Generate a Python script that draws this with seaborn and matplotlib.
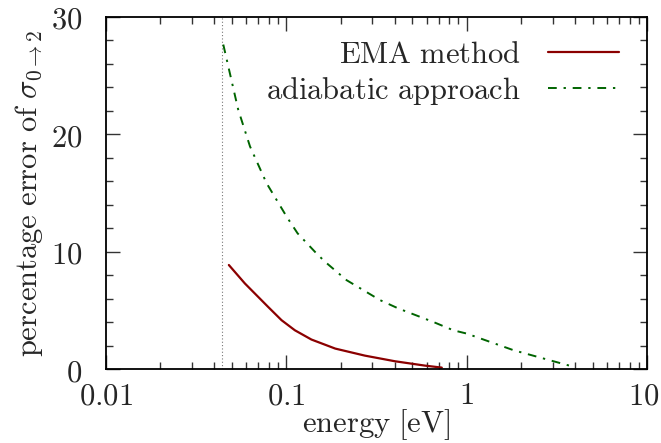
import matplotlib
matplotlib.use("Agg")
import matplotlib.pyplot as plt
import matplotlib.ticker as mticker
import matplotlib.transforms as mtransforms
import seaborn as sns
import pandas as pd
import numpy as np

# data
ema_energy = [0.0481, 0.0590, 0.0794, 0.0942, 0.1117, 0.138, 0.187, 0.273, 0.401, 0.587, 0.728]
ema_error = [8.86, 7.29, 5.29, 4.16, 3.30, 2.51, 1.74, 1.14, 0.66, 0.29, 0.12]
adia_energy = [0.0448, 0.0542, 0.0630, 0.0778, 0.101, 0.1156, 0.146, 0.164, 0.216,
               0.331, 0.418, 0.653, 0.843, 1.0, 1.82, 2.90, 3.83]
adia_error = [27.64, 22.09, 18.96, 15.83, 12.93, 11.56, 9.9, 9.14, 7.57,
              5.87, 5.16, 4.01, 3.30, 3.02, 1.60, 0.74, 0.23]
threshold = 0.044
x_ticks = [0.01, 0.1, 1, 10]
x_tick_labels = ["0.01", "0.1", "1", "10"]
y_ticks = [0, 10, 20, 30]

sns.set_style("ticks")
plt.rcParams["mathtext.fontset"] = "cm"
plt.rcParams["font.family"] = ["DejaVu Serif"]

FS = 22

df = pd.concat([
    pd.DataFrame({"energy": ema_energy, "error": ema_error, "series": "EMA method"}),
    pd.DataFrame({"energy": adia_energy, "error": adia_error, "series": "adiabatic approach"}),
])

fig = plt.figure(figsize=(6.61, 4.43), dpi=100)
ax = fig.add_axes([0.160, 0.167, 0.819, 0.795])

palette = {"EMA method": "#8b0000", "adiabatic approach": "#006400"}
sns.lineplot(data=df, x="energy", y="error", hue="series", palette=palette,
             ax=ax, sort=False, estimator=None, linewidth=1.6, legend=False)
lines = ax.get_lines()
lines[1].set_dashes([4.5, 3.5, 1.2, 3.5])
lines[1].set_linewidth(1.4)

ax.axvline(threshold, color="#777777", linestyle=(0, (1, 2)), linewidth=0.8, zorder=0)

ax.set_xscale("log")
ax.set_xlim(0.01, 10)
ax.set_ylim(0, 30)
ax.set_xticks(x_ticks)
ax.set_xticklabels([f"${t}$" for t in x_tick_labels])
ax.set_yticks(y_ticks)
ax.set_yticklabels([f"${t}$" for t in y_ticks])
ax.yaxis.set_minor_locator(mticker.MultipleLocator(2))
ax.xaxis.set_minor_locator(mticker.LogLocator(base=10, subs=np.arange(2, 10)))
ax.xaxis.set_minor_formatter(mticker.NullFormatter())

ax.tick_params(which="both", direction="in", top=True, right=True, labelsize=FS,
               width=1.0, color="#333333")
ax.tick_params(which="major", length=10)
ax.tick_params(which="minor", length=5)
ax.tick_params(axis="x", which="major", pad=8)
ax.tick_params(axis="y", which="major", pad=17)
for s in ax.spines.values():
    s.set_linewidth(1.3)
    s.set_color("black")

# keep the last x tick label inside the canvas
last = ax.get_xticklabels()[-1]
last.set_transform(last.get_transform() + mtransforms.ScaledTranslation(-3 / 100, 0, fig.dpi_scale_trans))

ax.set_xlabel(r"$\mathrm{energy\ [eV]}$", fontsize=FS, labelpad=-3)
ax.set_ylabel(r"$\mathrm{percentage\ error\ of\ }\sigma_{0\to2}$", fontsize=FS, labelpad=4)

handles = [lines[0], lines[1]]
leg = ax.legend(handles, ["$\\mathrm{EMA\\ method}$", "$\\mathrm{adiabatic\\ approach}$"],
                loc="upper right", bbox_to_anchor=(0.970, 0.972), borderaxespad=0,
                frameon=False, markerfirst=False, fontsize=FS, handlelength=2.3,
                handletextpad=0.9, labelspacing=0.17)
for t in leg.get_texts():
    t.set_ha("right")

fig.savefig("out.png", dpi=100)
